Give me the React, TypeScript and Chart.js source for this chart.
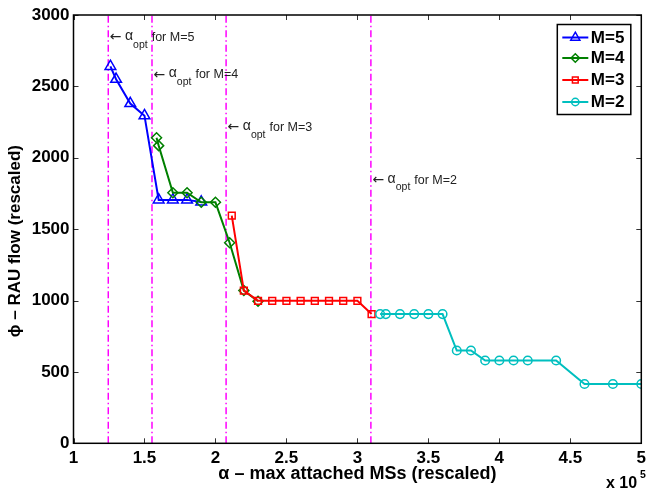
import React, { useEffect, useRef } from "react";
import { Chart, registerables } from "chart.js";
import { drawPoint } from "chart.js/helpers";

Chart.register(...registerables);

// ---- data ----
const xM5 = [1.26, 1.3, 1.4, 1.5, 1.6, 1.7, 1.8, 1.9];
const yM5 = [2640, 2550, 2380, 2295, 1705, 1705, 1705, 1690];
const xM4 = [1.585, 1.6, 1.7, 1.8, 1.9, 2.0, 2.1, 2.2, 2.3];
const yM4 = [2140, 2085, 1755, 1755, 1688, 1688, 1405, 1070, 995];
const xM3 = [2.115, 2.2, 2.3, 2.4, 2.5, 2.6, 2.7, 2.8, 2.9, 3.0, 3.1];
const yM3 = [1595, 1070, 998, 998, 998, 998, 998, 998, 998, 998, 905];
const xM2 = [3.16, 3.2, 3.3, 3.4, 3.5, 3.6, 3.7, 3.8, 3.9, 4.0, 4.1, 4.2, 4.4, 4.6, 4.8, 5.0];
const yM2 = [905, 905, 905, 905, 905, 905, 650, 650, 580, 580, 580, 580, 580, 415, 415, 415];

const seriesNames = ["M=5", "M=4", "M=3", "M=2"];
const optX = [1.245, 1.553, 2.075, 3.095];
const optLabelY = [2840, 2580, 2210, 1840];

const xTicks = ["1", "1.5", "2", "2.5", "3", "3.5", "4", "4.5", "5"];
const yTicks = ["0", "500", "1000", "1500", "2000", "2500", "3000"];

const xTitle = "\u03b1 \u2013 max attached MSs (rescaled)";
const yTitle = "\u03d5 \u2013 RAU flow (rescaled)";

const FONT = "'Liberation Sans', Arial, Helvetica, sans-serif";

const zip = (xs: number[], ys: number[]) => xs.map((x, i) => ({ x, y: ys[i] }));

const styles = [
  { color: "#0000ff", point: "triangle", radius: 6.2 },
  { color: "#008000", point: "rectRot", radius: 5 },
  { color: "#ff0000", point: "rect", radius: 4.8 },
  { color: "#00bfbf", point: "circle", radius: 4.3 },
];

const decorPlugin = {
  id: "decor",
  afterDatasetsDraw(chart: any) {
    const { ctx, chartArea: a, scales } = chart;
    const xs = scales.x;
    const ys = scales.y;
    ctx.save();
    // inward ticks
    ctx.strokeStyle = "#333";
    ctx.lineWidth = 1;
    ctx.beginPath();
    xTicks.map(Number).forEach((v) => {
      const px = Math.round(xs.getPixelForValue(v)) + 0.5;
      ctx.moveTo(px, a.bottom);
      ctx.lineTo(px, a.bottom - 5);
      ctx.moveTo(px, a.top);
      ctx.lineTo(px, a.top + 5);
    });
    yTicks.map(Number).forEach((v) => {
      const py = Math.round(ys.getPixelForValue(v)) + 0.5;
      ctx.moveTo(a.left, py);
      ctx.lineTo(a.left + 5, py);
      ctx.moveTo(a.right, py);
      ctx.lineTo(a.right - 5, py);
    });
    ctx.stroke();
    // frame
    ctx.strokeStyle = "#000";
    ctx.lineWidth = 1.5;
    ctx.strokeRect(a.left, a.top, a.right - a.left, a.bottom - a.top);

    // y axis title
    ctx.save();
    ctx.translate(15, (a.top + a.bottom) / 2 + 12);
    ctx.rotate(-Math.PI / 2);
    ctx.fillStyle = "#000";
    ctx.font = `bold 17px ${FONT}`;
    ctx.textAlign = "center";
    ctx.textBaseline = "middle";
    ctx.fillText(yTitle, 0, 0);
    ctx.restore();

    // annotations
    ctx.fillStyle = "#222";
    ctx.textBaseline = "middle";
    optX.forEach((xv, i) => {
      let px = xs.getPixelForValue(xv) + 1.5;
      const py = ys.getPixelForValue(optLabelY[i]);
      ctx.font = `14px 'DejaVu Sans', ${FONT}`;
      ctx.fillText("\u2190", px, py);
      px += ctx.measureText("\u2190").width + 3.5;
      ctx.font = `14px ${FONT}`;
      ctx.fillText("\u03b1", px, py - 1.5);
      px += ctx.measureText("\u03b1").width;
      ctx.font = `10.5px ${FONT}`;
      ctx.fillText("opt", px, py + 7);
      px += ctx.measureText("opt").width + 4;
      ctx.font = `12.5px ${FONT}`;
      ctx.fillText("for " + seriesNames[i], px, py);
    });

    // legend
    const bx = a.right - 84;
    const by = a.top + 9.5;
    const bw = 73.5;
    const bh = 90;
    ctx.fillStyle = "#fff";
    ctx.fillRect(bx, by, bw, bh);
    ctx.strokeStyle = "#000";
    ctx.lineWidth = 1.5;
    ctx.strokeRect(bx, by, bw, bh);
    const rowY = [13, 33.5, 55.5, 77.5];
    chart.data.datasets.slice(0, 4).forEach((ds: any, i: number) => {
      const y = by + rowY[i];
      const st = styles[i];
      ctx.strokeStyle = st.color;
      ctx.lineWidth = 2;
      ctx.beginPath();
      ctx.moveTo(bx + 5, y);
      ctx.lineTo(bx + 31, y);
      ctx.stroke();
      ctx.lineWidth = 1.5;
      ctx.fillStyle = "rgba(0,0,0,0)";
      drawPoint(ctx, { pointStyle: st.point, radius: st.radius * 0.85, rotation: 0, borderWidth: 1.5 } as any, bx + 18, y);
      ctx.fillStyle = "#000";
      ctx.font = `bold 17px ${FONT}`;
      ctx.textBaseline = "middle";
      ctx.fillText(ds.label, bx + 33.5, y + 0.5);
    });

    // x 10^5
    ctx.fillStyle = "#000";
    ctx.font = `bold 16px ${FONT}`;
    ctx.textBaseline = "middle";
    ctx.fillText("x 10", 606, 483.5);
    ctx.font = `bold 10.5px ${FONT}`;
    ctx.fillText("5", 640, 475);
    ctx.restore();
  },
};

export default function App() {
  const ref = useRef<HTMLCanvasElement | null>(null);
  useEffect(() => {
    document.body.style.margin = "0";
    const canvas = ref.current;
    if (!canvas) return;
    const datasets: any[] = [
      [xM5, yM5],
      [xM4, yM4],
      [xM3, yM3],
      [xM2, yM2],
    ].map(([xs, ys], i) => ({
      type: "line",
      label: seriesNames[i],
      data: zip(xs, ys),
      borderColor: styles[i].color,
      borderWidth: 2,
      pointStyle: styles[i].point,
      pointRadius: styles[i].radius,
      pointBorderWidth: 1.5,
      pointBorderColor: styles[i].color,
      pointBackgroundColor: "rgba(0,0,0,0)",
      tension: 0,
      order: 4 - i,
    }));
    optX.forEach((xv) => {
      datasets.push({
        type: "line",
        label: "opt",
        data: [
          { x: xv, y: 0 },
          { x: xv, y: 3000 },
        ],
        borderColor: "#ff00ff",
        borderWidth: 1.5,
        borderDash: [7, 3, 1.5, 3],
        pointRadius: 0,
        order: 10,
      });
    });
    const chart = new Chart(canvas, {
      type: "line",
      data: { datasets },
      options: {
        responsive: false,
        animation: false,
        devicePixelRatio: 1,
        layout: { padding: { top: 15, right: 1.2, left: 0, bottom: 0 } },
        plugins: { legend: { display: false }, tooltip: { enabled: false } },
        scales: {
          x: {
            type: "linear",
            min: 1,
            max: 5,
            afterBuildTicks: (s: any) => {
              s.ticks = xTicks.map((t) => ({ value: Number(t) }));
            },
            afterFit: (s: any) => {
              s.height = 46.7;
              s.paddingLeft = 0;
              s.paddingRight = 0;
            },
            ticks: {
              callback: (_v: any, i: number) => xTicks[i],
              font: { family: FONT, size: 17, weight: "bold" },
              color: "#000",
              padding: 5,
              maxRotation: 0,
              autoSkip: false,
            },
            grid: { display: false, drawTicks: false },
            border: { display: false },
            title: {
              display: true,
              text: xTitle,
              font: { family: FONT, size: 18, weight: "bold" },
              color: "#000",
              padding: { top: 0, bottom: 5 },
            },
          },
          y: {
            type: "linear",
            min: 0,
            max: 3000,
            afterBuildTicks: (s: any) => {
              s.ticks = yTicks.map((t) => ({ value: Number(t) }));
            },
            afterFit: (s: any) => {
              s.width = 73.5;
              s.paddingTop = 0;
              s.paddingBottom = 0;
            },
            ticks: {
              callback: (_v: any, i: number) => yTicks[i],
              font: { family: FONT, size: 17, weight: "bold" },
              color: "#000",
              padding: 4,
              autoSkip: false,
            },
            grid: { display: false, drawTicks: false },
            border: { display: false },
            title: { display: false },
          },
        },
      },
      plugins: [decorPlugin],
    } as any);
    return () => chart.destroy();
  }, []);
  return (
    <div style={{ width: 649, height: 490 }}>
      <canvas ref={ref} width={649} height={490} style={{ display: "block" }} />
    </div>
  );
}
